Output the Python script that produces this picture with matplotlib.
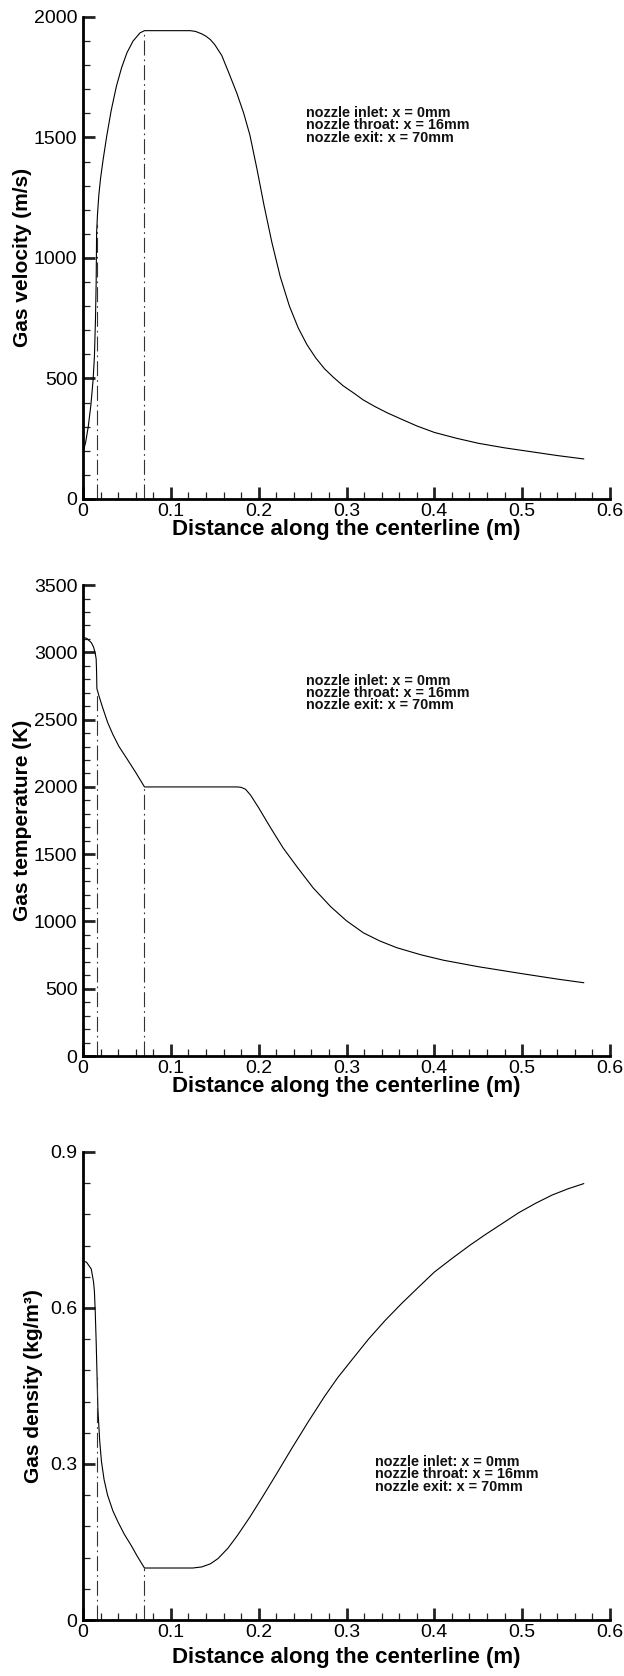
import numpy as np
import matplotlib
matplotlib.use("Agg")
import matplotlib.pyplot as plt
from matplotlib.ticker import MultipleLocator, FuncFormatter

plt.rcParams['font.family'] = ['Liberation Sans', 'DejaVu Sans']

# gas velocity along the centreline (m, m/s)
vel_x = [0.0, 0.003, 0.006, 0.009, 0.0115, 0.013, 0.0142, 0.015, 0.0155, 0.0165,
         0.018, 0.020, 0.023, 0.027, 0.032, 0.038, 0.044, 0.050, 0.057, 0.065,
         0.070, 0.122, 0.128, 0.135, 0.140, 0.145, 0.150, 0.158, 0.166, 0.175,
         0.183, 0.190, 0.198, 0.206, 0.215, 0.2245, 0.235, 0.245, 0.255, 0.265,
         0.275, 0.285, 0.296, 0.308, 0.319, 0.332, 0.346, 0.360, 0.380, 0.400,
         0.425, 0.450, 0.480, 0.512, 0.540, 0.570]
vel = [192, 235, 300, 390, 494, 590, 743, 900, 1104, 1180,
       1260, 1330, 1410, 1505, 1610, 1712, 1790, 1851, 1900, 1934,
       1943, 1943, 1940, 1930, 1920, 1906, 1885, 1840, 1768, 1685,
       1600, 1510, 1370, 1220, 1065, 923, 800, 710, 640, 585,
       540, 505, 470, 440, 411, 384, 358, 335, 303, 276,
       252, 231, 212, 195, 180, 166]

# gas temperature (m, K)
temp_x = [0.0, 0.004, 0.0094, 0.012, 0.014, 0.015, 0.0155, 0.0158, 0.018, 0.0226,
          0.028, 0.034, 0.041, 0.049, 0.060, 0.070, 0.1756, 0.180, 0.185, 0.1908,
          0.200, 0.2136, 0.228, 0.244, 0.262, 0.282, 0.300, 0.3194, 0.338, 0.3573,
          0.385, 0.4105, 0.450, 0.500, 0.540, 0.570]
temp = [3110, 3105, 3073, 3040, 2990, 2951, 2850, 2732, 2680, 2585,
        2480, 2390, 2300, 2220, 2108, 2000, 2000, 1997, 1983, 1939,
        1845, 1696, 1545, 1403, 1250, 1110, 1005, 915, 855, 805,
        752, 712, 664, 612, 572, 545]

# gas density (m, kg/m3)
dens_x = [0.0, 0.004, 0.0094, 0.012, 0.013, 0.014, 0.015, 0.016, 0.017, 0.019,
          0.021, 0.024, 0.028, 0.034, 0.040, 0.047, 0.055, 0.062, 0.070, 0.125,
          0.135, 0.145, 0.1536, 0.165, 0.176, 0.190, 0.203, 0.220, 0.237, 0.256,
          0.275, 0.290, 0.306, 0.325, 0.344, 0.363, 0.382, 0.400, 0.420, 0.440,
          0.458, 0.477, 0.496, 0.515, 0.534, 0.552, 0.570]
dens = [0.690, 0.688, 0.675, 0.650, 0.632, 0.590, 0.535, 0.470, 0.404, 0.345,
        0.305, 0.270, 0.240, 0.210, 0.188, 0.165, 0.143, 0.122, 0.100, 0.100,
        0.102, 0.108, 0.118, 0.138, 0.163, 0.198, 0.233, 0.280, 0.328, 0.380,
        0.430, 0.466, 0.500, 0.540, 0.576, 0.609, 0.640, 0.669, 0.695, 0.720,
        0.741, 0.762, 0.783, 0.801, 0.817, 0.829, 0.839]

x_throat = 0.016
x_exit = 0.070
x_ticks = [0, 0.1, 0.2, 0.3, 0.4, 0.5, 0.6]
note = "nozzle inlet: x = 0mm\nnozzle throat: x = 16mm\nnozzle exit: x = 70mm"
xlabel = "Distance along the centerline (m)"

fig = plt.figure(figsize=(6.24, 16.76), dpi=100)
fmt = FuncFormatter(lambda v, p: "%g" % round(v, 6))


def panel(rect, x, y, ymax, ymajor, yminor, ylabel, note_pos, label_x, xlab_y):
    ax = fig.add_axes(rect)
    ax.plot(x, y, color="black", lw=0.8)
    # throat and exit markers
    for xv in (x_throat, x_exit):
        ax.plot([xv, xv], [0, np.interp(xv, x, y)], color="#333333", lw=0.8,
                dashes=(13.5, 3.6, 1.5, 3.6))
    ax.set_xlim(0, 0.6)
    ax.set_ylim(0, ymax)
    ax.set_xticks(x_ticks)
    ax.xaxis.set_minor_locator(MultipleLocator(0.02))
    ax.yaxis.set_major_locator(MultipleLocator(ymajor))
    ax.yaxis.set_minor_locator(MultipleLocator(yminor))
    ax.xaxis.set_major_formatter(fmt)
    ax.yaxis.set_major_formatter(fmt)
    for s in ("top", "right"):
        ax.spines[s].set_visible(False)
    for s in ("left", "bottom"):
        ax.spines[s].set_linewidth(2)
    ax.tick_params(which="major", direction="in", length=8.4, width=2,
                   labelsize=14, color="#222222")
    ax.tick_params(which="minor", direction="in", length=4.8, width=0.9,
                   color="#222222")
    ax.tick_params(axis="x", pad=3)
    ax.tick_params(axis="y", pad=4)
    ax.set_xlabel(xlabel, fontsize=16, fontweight="bold")
    ax.xaxis.set_label_coords(0.5, xlab_y)
    ax.set_ylabel(ylabel, fontsize=15, fontweight="bold")
    ax.yaxis.set_label_coords(label_x, 0.5)
    ax.text(note_pos[0], note_pos[1], note, transform=ax.transAxes,
            fontsize=10.4, fontweight="bold", ha="left", va="top",
            linespacing=0.84, color="#111111")
    return ax


panel([0.133, 0.7023, 0.8446, 0.2876], vel_x, vel, 2000, 500, 100,
      "Gas velocity (m/s)", (0.424, 0.815), -0.097, -0.042)
panel([0.133, 0.3699, 0.8446, 0.2810], temp_x, temp, 3500, 500, 100,
      "Gas temperature (K)", (0.424, 0.812), -0.097, -0.042)
panel([0.133, 0.0334, 0.8446, 0.2793], dens_x, dens, 0.9, 0.3, 0.06,
      "Gas density (kg/m³)", (0.554, 0.352), -0.076, -0.058)

fig.savefig("out.png", dpi=100)
